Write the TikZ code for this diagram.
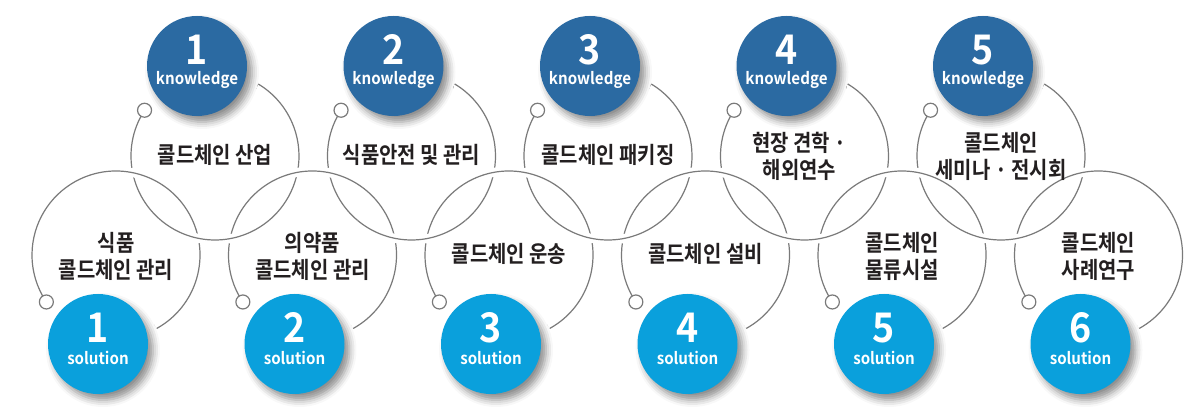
\documentclass[tikz,border=0pt]{standalone}
\usepackage{fontspec}
\usetikzlibrary{shadows.blur}
\newfontfamily\korfont{Noto Sans CJK KR Bold}[FakeStretch=0.87]
\newfontfamily\latfont{Noto Sans CJK KR Bold}[FakeStretch=0.92]
\definecolor{kblue}{HTML}{2B6AA2}
\definecolor{sblue}{HTML}{0AA0DC}
\definecolor{ringgray}{HTML}{7A7A7A}
\definecolor{inkdark}{HTML}{231F20}
\tikzset{
  ring/.style={draw=ringgray,line width=1.2bp,preaction={draw=white,line width=9bp}},
  knot/.style={circle,draw=ringgray,line width=1.2bp,fill=white,minimum size=14bp,inner sep=0pt},
  badge/.style={circle,minimum size=100bp,inner sep=0pt,
    blur shadow={shadow xshift=5bp,shadow yshift=-6bp,shadow blur radius=7bp,shadow opacity=45}},
  kbadge/.style={badge,fill=kblue},
  sbadge/.style={badge,fill=sblue},
  numtext/.style={anchor=base,text=white,inner sep=0pt,font=\latfont\fontsize{41}{41}\selectfont},
  tagtext/.style={anchor=base,text=white,inner sep=0pt,font=\latfont\fontsize{16.5}{17}\selectfont},
  itemtext/.style={align=center,text=inkdark,inner sep=0pt,font=\korfont\fontsize{23}{27}\selectfont},
}
\begin{document}
\begin{tikzpicture}[>=latex,line join=bevel,]
\useasboundingbox (0bp,0bp) rectangle (1200bp,414bp);
%% ring centres
\coordinate (tc1) at (215bp,258bp);
\coordinate (tc2) at (411.5bp,258bp);
\coordinate (tc3) at (608bp,258bp);
\coordinate (tc4) at (804.5bp,258bp);
\coordinate (tc5) at (1001bp,258bp);
\coordinate (bc1) at (116bp,159bp);
\coordinate (bc2) at (312.5bp,159bp);
\coordinate (bc3) at (509bp,159bp);
\coordinate (bc4) at (705.5bp,159bp);
\coordinate (bc5) at (902bp,159bp);
\coordinate (bc6) at (1098.5bp,159bp);
%% upper rings
\draw [ring] (tc1) ++(147:84bp) arc [start angle=147,end angle=419,radius=84bp];
\draw [ring] (tc2) ++(147:84bp) arc [start angle=147,end angle=419,radius=84bp];
\draw [ring] (tc3) ++(147:84bp) arc [start angle=147,end angle=419,radius=84bp];
\draw [ring] (tc4) ++(147:84bp) arc [start angle=147,end angle=419,radius=84bp];
\draw [ring] (tc5) ++(147:84bp) arc [start angle=147,end angle=419,radius=84bp];
%% lower rings
\draw [ring] (bc1) ++(-61:84bp) arc [start angle=-61,end angle=214,radius=84bp];
\draw [ring] (bc2) ++(-61:84bp) arc [start angle=-61,end angle=214,radius=84bp];
\draw [ring] (bc3) ++(-61:84bp) arc [start angle=-61,end angle=214,radius=84bp];
\draw [ring] (bc4) ++(-61:84bp) arc [start angle=-61,end angle=214,radius=84bp];
\draw [ring] (bc5) ++(-61:84bp) arc [start angle=-61,end angle=214,radius=84bp];
\draw [ring] (bc6) ++(-61:84bp) arc [start angle=-61,end angle=214,radius=84bp];
%% upper rings pass over at the bottom
\draw [ring] (tc1) ++(230:84bp) arc [start angle=230,end angle=310,radius=84bp];
\draw [ring] (tc2) ++(230:84bp) arc [start angle=230,end angle=310,radius=84bp];
\draw [ring] (tc3) ++(230:84bp) arc [start angle=230,end angle=310,radius=84bp];
\draw [ring] (tc4) ++(230:84bp) arc [start angle=230,end angle=310,radius=84bp];
\draw [ring] (tc5) ++(230:84bp) arc [start angle=230,end angle=310,radius=84bp];
%% ring ends
\node (tk1) at ([shift={(147:84bp)}]tc1) [knot] {};
\node (tk2) at ([shift={(147:84bp)}]tc2) [knot] {};
\node (tk3) at ([shift={(147:84bp)}]tc3) [knot] {};
\node (tk4) at ([shift={(147:84bp)}]tc4) [knot] {};
\node (tk5) at ([shift={(147:84bp)}]tc5) [knot] {};
\node (bk1) at ([shift={(214:84bp)}]bc1) [knot] {};
\node (bk2) at ([shift={(214:84bp)}]bc2) [knot] {};
\node (bk3) at ([shift={(214:84bp)}]bc3) [knot] {};
\node (bk4) at ([shift={(214:84bp)}]bc4) [knot] {};
\node (bk5) at ([shift={(214:84bp)}]bc5) [knot] {};
\node (bk6) at ([shift={(214:84bp)}]bc6) [knot] {};
%% knowledge badges
\node (k1) at (197bp,348bp) [kbadge] {};
\node (k2) at (393.5bp,348bp) [kbadge] {};
\node (k3) at (590bp,348bp) [kbadge] {};
\node (k4) at (786.5bp,348bp) [kbadge] {};
\node (k5) at (983bp,348bp) [kbadge] {};
\node (k1n) at ([yshift=1bp]k1.center) [numtext] {1};
\node (k2n) at ([yshift=1bp]k2.center) [numtext] {2};
\node (k3n) at ([yshift=1bp]k3.center) [numtext] {3};
\node (k4n) at ([yshift=1bp]k4.center) [numtext] {4};
\node (k5n) at ([yshift=1bp]k5.center) [numtext] {5};
\node (k1l) at ([yshift=-19bp]k1.center) [tagtext] {knowledge};
\node (k2l) at ([yshift=-19bp]k2.center) [tagtext] {knowledge};
\node (k3l) at ([yshift=-19bp]k3.center) [tagtext] {knowledge};
\node (k4l) at ([yshift=-19bp]k4.center) [tagtext] {knowledge};
\node (k5l) at ([yshift=-19bp]k5.center) [tagtext] {knowledge};
%% solution badges
\node (s1) at (98bp,70bp) [sbadge] {};
\node (s2) at (294.5bp,70bp) [sbadge] {};
\node (s3) at (491bp,70bp) [sbadge] {};
\node (s4) at (687.5bp,70bp) [sbadge] {};
\node (s5) at (884bp,70bp) [sbadge] {};
\node (s6) at (1080.5bp,70bp) [sbadge] {};
\node (s1n) at ([yshift=1bp]s1.center) [numtext] {1};
\node (s2n) at ([yshift=1bp]s2.center) [numtext] {2};
\node (s3n) at ([yshift=1bp]s3.center) [numtext] {3};
\node (s4n) at ([yshift=1bp]s4.center) [numtext] {4};
\node (s5n) at ([yshift=1bp]s5.center) [numtext] {5};
\node (s6n) at ([yshift=1bp]s6.center) [numtext] {6};
\node (s1l) at ([yshift=-21bp]s1.center) [tagtext] {solution};
\node (s2l) at ([yshift=-21bp]s2.center) [tagtext] {solution};
\node (s3l) at ([yshift=-21bp]s3.center) [tagtext] {solution};
\node (s4l) at ([yshift=-21bp]s4.center) [tagtext] {solution};
\node (s5l) at ([yshift=-21bp]s5.center) [tagtext] {solution};
\node (s6l) at ([yshift=-21bp]s6.center) [tagtext] {solution};
%% ring texts
\node (t1) at ([yshift=1bp]tc1) [itemtext] {콜드체인 산업};
\node (t2) at ([yshift=1bp]tc2) [itemtext] {식품안전 및 관리};
\node (t3) at ([yshift=1bp]tc3) [itemtext] {콜드체인 패키징};
\node (t4) at ([xshift=-5bp]tc4) [itemtext] {현장 견학 ·\\해외연수};
\node (t5) at (tc5) [itemtext] {콜드체인\\세미나 · 전시회};
\node (b1) at ([yshift=-1bp]bc1) [itemtext] {식품\\콜드체인 관리};
\node (b2) at ([yshift=-1bp]bc2) [itemtext] {의약품\\콜드체인 관리};
\node (b3) at ([yshift=1bp]bc3) [itemtext] {콜드체인 운송};
\node (b4) at ([yshift=1bp]bc4) [itemtext] {콜드체인 설비};
\node (b5) at ([yshift=-1bp]bc5) [itemtext] {콜드체인\\물류시설};
\node (b6) at ([yshift=-1bp]bc6) [itemtext] {콜드체인\\사례연구};
%
\end{tikzpicture}
\end{document}
